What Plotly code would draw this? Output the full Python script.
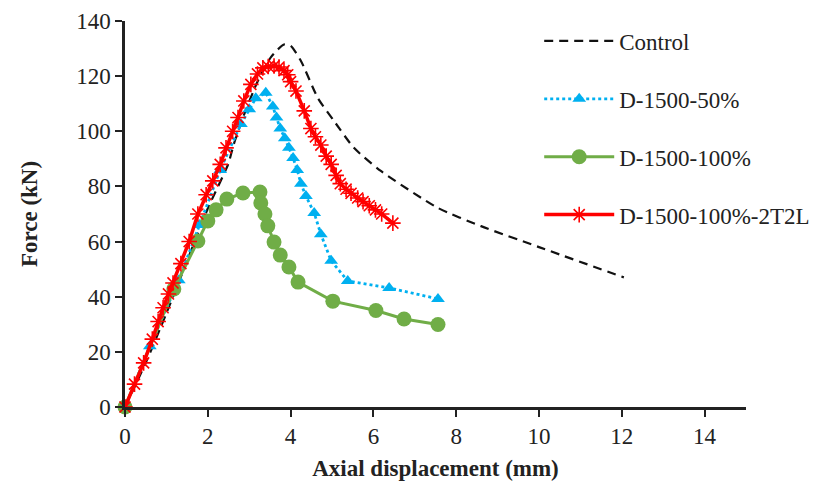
import plotly.graph_objects as go

# Data
control_x = [0, 0.5, 1.0, 1.5, 2.0, 2.49, 2.63, 2.85, 3.2, 3.53, 3.84, 4.0, 4.25, 4.66, 5.05, 5.53, 6.18, 7.56, 8.6, 10.0, 12.05]
control_y = [0, 16, 34, 53, 72, 88, 95.4, 105, 118, 127, 131.5, 131, 125.5, 112, 103.7, 94, 85.6, 72.2, 65.6, 58, 47]

d50_x = [0, 0.6, 1.3, 1.8, 2.3, 2.8, 3.0, 3.16, 3.4, 3.57, 3.66, 3.75, 3.86, 3.96, 4.06, 4.16, 4.25, 4.37, 4.57, 4.73, 4.98, 5.38, 6.38, 7.56]
d50_y = [0, 22, 46, 66, 86, 102.6, 108, 112, 114, 109, 105, 101, 97.5, 94, 90.3, 86, 81, 76.5, 70.4, 62.7, 53, 45.7, 43.2, 39.2]

d100_x = [0, 1.18, 1.76, 2.0, 2.2, 2.46, 2.85, 3.26, 3.28, 3.38, 3.45, 3.6, 3.75, 3.96, 4.18, 5.02, 6.06, 6.74, 7.56]
d100_y = [0, 42.8, 60.2, 67.5, 71.5, 75.4, 77.6, 78, 74, 70, 65.7, 59.8, 55.1, 50.8, 45.3, 38.4, 35.0, 31.9, 29.9]

d2t_x = [0, 0.23, 0.45, 0.66, 0.8, 0.92, 1.05, 1.16, 1.35, 1.55, 1.76, 1.96, 2.12, 2.3, 2.44, 2.6, 2.73, 2.87, 3.04, 3.2, 3.33, 3.46, 3.6, 3.72, 3.84, 3.93, 4.0, 4.13, 4.33, 4.49, 4.6, 4.73, 4.86, 4.98, 5.1, 5.2, 5.34, 5.46, 5.62, 5.75, 5.9, 6.05, 6.2, 6.47]
d2t_y = [0, 8.3, 16, 24.6, 31, 36, 41, 45, 52, 60, 70, 77, 82, 88, 94, 100, 105, 111, 117, 120.8, 123, 123.5, 123.7, 123.3, 122, 120.5, 118, 114.6, 107.4, 101, 98, 95, 91, 88, 84, 81, 79, 77.5, 75.8, 74.5, 73, 71.5, 70, 66.7]

x_ticks = [0, 2, 4, 6, 8, 10, 12, 14]
y_ticks = [0, 20, 40, 60, 80, 100, 120, 140]

FONT = "Liberation Serif, Times New Roman, serif"
FS = 23

fig = go.Figure()
fig.add_trace(go.Scatter(
    x=control_x, y=control_y, name="Control", mode="lines",
    line=dict(color="#111111", width=2.2, dash="9px,6px", shape="spline", smoothing=0.6),
    legendgroup="a", cliponaxis=False))
fig.add_trace(go.Scatter(
    x=d50_x, y=d50_y, name="D-1500-50%", mode="lines+markers",
    line=dict(color="#00B0F0", width=2.8, dash="dot"),
    marker=dict(symbol="triangle-up", size=12, color="#00B0F0"),
    legendgroup="b", cliponaxis=False))
fig.add_trace(go.Scatter(
    x=d100_x, y=d100_y, name="D-1500-100%", mode="lines+markers",
    line=dict(color="#70AD47", width=3),
    marker=dict(symbol="circle", size=15, color="#70AD47"),
    legendgroup="c", cliponaxis=False))
fig.add_trace(go.Scatter(
    x=d2t_x, y=d2t_y, name="D-1500-100%-2T2L", mode="lines+markers",
    line=dict(color="#FF0000", width=3.5),
    marker=dict(symbol="asterisk-open", size=13, line=dict(color="#FF0000", width=1.6)),
    legendgroup="d", cliponaxis=False))

fig.update_layout(
    width=811, height=478,
    margin=dict(l=117, r=73, t=13, b=79, autoexpand=False),
    paper_bgcolor="white", plot_bgcolor="white",
    font=dict(family=FONT, size=FS, color="#222222"),
    legend=dict(x=0.667, y=1.004, xanchor="left", yanchor="top",
                font=dict(family=FONT, size=FS, color="#222222"),
                tracegroupgap=25, itemwidth=70, bgcolor="rgba(0,0,0,0)"),
    xaxis=dict(range=[0, 15], tickvals=x_ticks, ticktext=[str(v) for v in x_ticks],
               showgrid=False, zeroline=False, showline=True, linecolor="#222222", linewidth=2.5,
               ticks="outside", ticklen=7, tickwidth=2, tickcolor="#222222", automargin=False,
               title=dict(text="<b>Axial displacement (mm)</b>", standoff=12,
                          font=dict(family=FONT, size=FS, color="#222222"))),
    yaxis=dict(range=[0, 140], tickvals=y_ticks, ticktext=[str(v) for v in y_ticks],
               showgrid=False, zeroline=False, showline=True, linecolor="#222222", linewidth=2.5,
               ticks="outside", ticklen=7, tickwidth=2, tickcolor="#222222", automargin=False,
               title=dict(text="<b>Force (kN)</b>", standoff=33,
                          font=dict(family=FONT, size=FS, color="#222222"))),
)

fig.write_html("out.html")
